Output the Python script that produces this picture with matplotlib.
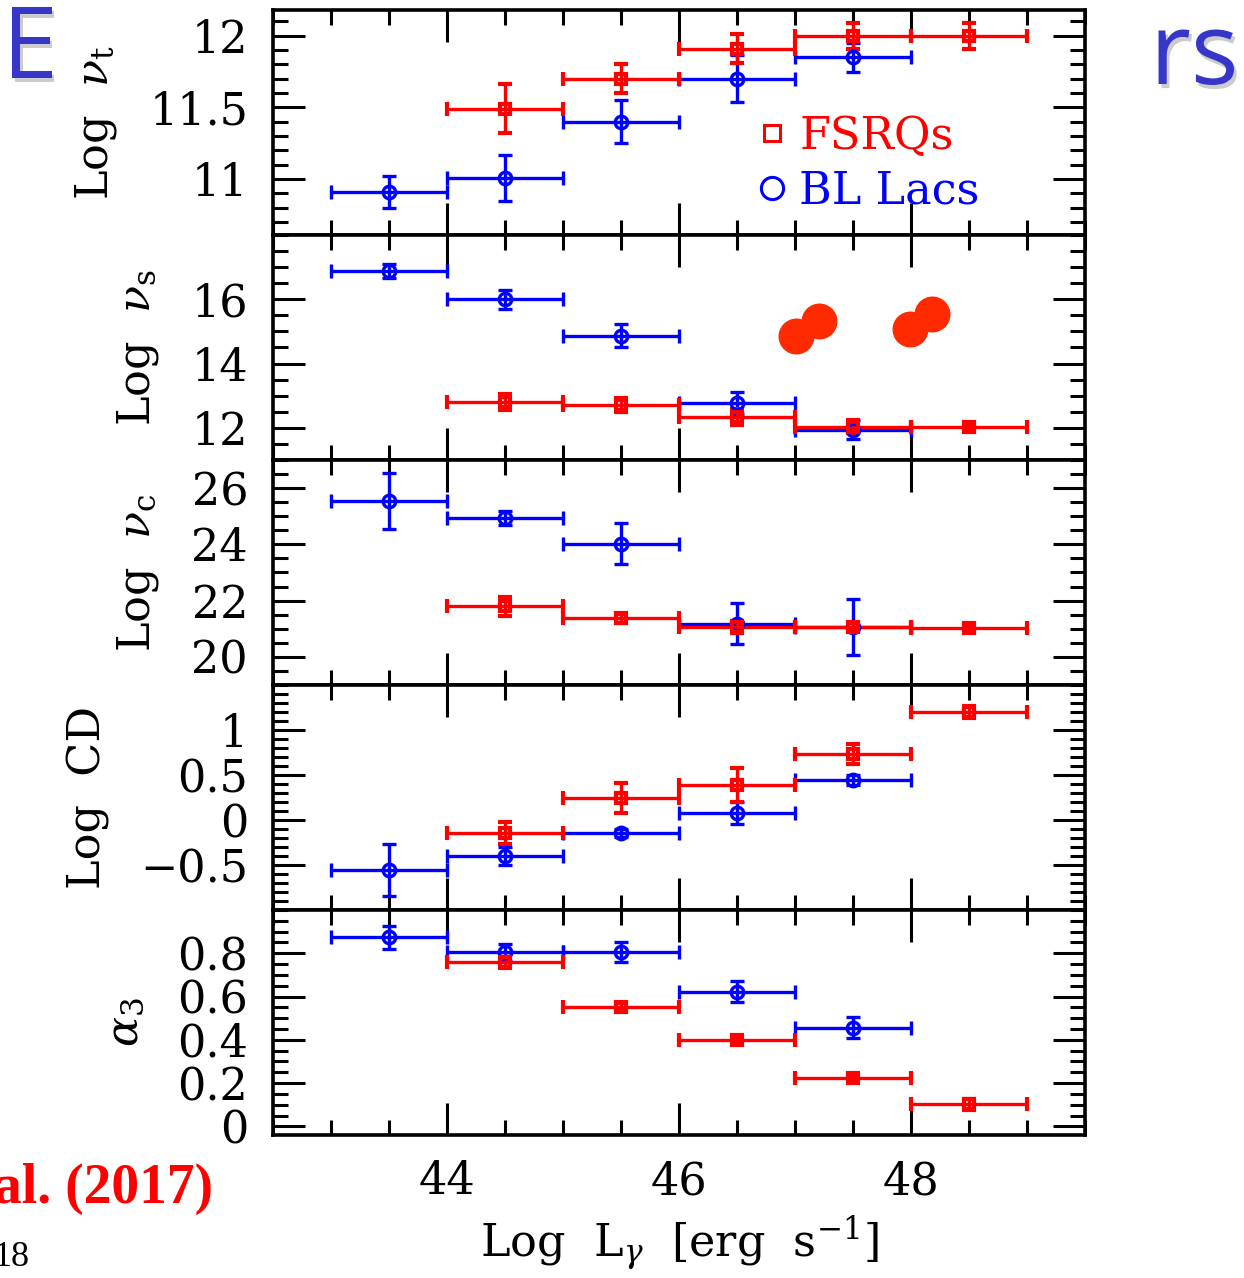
import matplotlib
matplotlib.use("Agg")
import matplotlib.pyplot as plt
import matplotlib.patheffects as pe
from matplotlib.ticker import MultipleLocator, FixedLocator, FuncFormatter
from matplotlib.lines import Line2D

plt.rcParams['font.family'] = 'DejaVu Serif'
plt.rcParams['mathtext.fontset'] = 'dejavuserif'

# bin centres in Log L_gamma (bins are 1 dex wide)
fsrq_x = [44.5, 45.5, 46.5, 47.5, 48.5]
bll_x = [43.5, 44.5, 45.5, 46.5, 47.5]
bin_half = 0.5

# Log nu_t
nut_fsrq = [11.49, 11.70, 11.91, 12.00, 12.00]
nut_fsrq_err = [0.17, 0.10, 0.10, 0.09, 0.09]
nut_bll = [10.91, 11.01, 11.40, 11.70, 11.85]
nut_bll_err = [0.11, 0.16, 0.15, 0.165, 0.10]

# Log nu_s
nus_fsrq = [12.79, 12.70, 12.34, 12.03, 12.03]
nus_fsrq_err = [0.25, 0.22, 0.26, 0.2, 0.1]
nus_bll = [16.89, 16.00, 14.87, 12.76, 11.94]
nus_bll_err = [0.22, 0.3, 0.35, 0.34, 0.3]

# Log nu_c
nuc_fsrq = [21.80, 21.37, 21.06, 21.06, 21.03]
nuc_fsrq_err = [0.33, 0.15, 0.2, 0.15, 0.1]
nuc_bll = [25.54, 24.94, 24.03, 21.18, 21.06]
nuc_bll_err = [1.0, 0.25, 0.74, 0.74, 1.0]

# Log CD
cd_fsrq = [-0.144, 0.244, 0.39, 0.733, 1.20]
cd_fsrq_err = [0.125, 0.165, 0.19, 0.11, 0.07]
cd_bll = [-0.556, -0.40, -0.144, 0.078, 0.444]
cd_bll_err = [0.29, 0.1, 0.04, 0.12, 0.06]

# alpha_3
a3_fsrq = [0.758, 0.553, 0.400, 0.223, 0.102]
a3_fsrq_err = [0.025, 0.015, 0.015, 0.015, 0.025]
a3_bll = [0.874, 0.805, 0.805, 0.623, 0.456]
a3_bll_err = [0.053, 0.04, 0.045, 0.05, 0.05]

# the red blobs pasted on the slide (sitting in the nu_s panel)
blob_x = [47.01, 47.21, 47.99, 48.18]
blob_y = [14.87, 15.33, 15.08, 15.54]

panels = [
    (r'Log  $\nu_{\rm t}$', nut_fsrq, nut_fsrq_err, nut_bll, nut_bll_err),
    (r'Log  $\nu_{\rm s}$', nus_fsrq, nus_fsrq_err, nus_bll, nus_bll_err),
    (r'Log  $\nu_{\rm c}$', nuc_fsrq, nuc_fsrq_err, nuc_bll, nuc_bll_err),
    ('Log  CD', cd_fsrq, cd_fsrq_err, cd_bll, cd_bll_err),
    (r'$\alpha_3$', a3_fsrq, a3_fsrq_err, a3_bll, a3_bll_err),
]
ylims = [(10.61, 12.18), (11, 18), (19, 27), (-1, 1.5), (-0.04, 1.0)]
ymajors = [[11, 11.5, 12], [12, 14, 16], [20, 22, 24, 26],
           [-0.5, 0, 0.5, 1], [0, 0.2, 0.4, 0.6, 0.8]]
yminor = [0.1, 0.5, 0.5, 0.1, 0.05]


def fmt(v, pos):
    return ('%g' % v).replace('-', '\u2212')


fig, axs = plt.subplots(5, 1, sharex=True, figsize=(12.44, 12.78), dpi=100)
fig.subplots_adjust(left=0.2195, right=0.8722, top=0.9922, bottom=0.1119, hspace=0)

ebkw = dict(xerr=bin_half, ls='none', elinewidth=2.4, capsize=5, capthick=2.4)

for i, ax in enumerate(axs):
    lab, fy, fe, by, be = panels[i]
    ax.errorbar(bll_x, by, yerr=be, fmt='o', color='blue', mfc='none',
                ms=9, mew=2.4, **ebkw)
    ax.errorbar(fsrq_x, fy, yerr=fe, fmt='s', color='red', mfc='none',
                ms=7, mew=3, **ebkw)
    ax.set_ylim(*ylims[i])
    ax.set_ylabel(lab, fontsize=32, labelpad=22)
    ax.yaxis.set_major_locator(FixedLocator(ymajors[i]))
    ax.yaxis.set_minor_locator(MultipleLocator(yminor[i]))
    ax.yaxis.set_major_formatter(FuncFormatter(fmt))
    ax.xaxis.set_major_locator(MultipleLocator(2))
    ax.xaxis.set_minor_locator(MultipleLocator(0.5))
    ax.tick_params(which='both', direction='in', top=True, right=True,
                   width=2.2, labelsize=32, pad=18)
    ax.tick_params(which='major', length=23)
    ax.tick_params(which='minor', length=11)
    for s in ax.spines.values():
        s.set_linewidth(2.6)

axs[-1].set_xlim(42.5, 49.5)
axs[-1].set_xlabel(r'Log  L$_\gamma$  [erg  s$^{-1}$]', fontsize=32, labelpad=8)

# legend in the top panel
handles = [Line2D([], [], ls='none', marker='s', mfc='none', mec='red', ms=12, mew=2.2),
           Line2D([], [], ls='none', marker='o', mfc='none', mec='blue', ms=16, mew=2.2)]
axs[0].legend(handles, ['FSRQs', 'BL Lacs'], loc='upper left',
              bbox_to_anchor=(0.5985, 0.535), frameon=False, fontsize=32,
              handlelength=0.6, handletextpad=0.3, labelspacing=0.26,
              borderpad=0, borderaxespad=0, labelcolor=['red', 'blue'])

# slide decorations
axs[1].scatter(blob_x, blob_y, s=670, color='#ff2a00', zorder=10, clip_on=False,
               linewidths=0)

shadow = [pe.withSimplePatchShadow(offset=(2, -3), shadow_rgbFace='gray', alpha=0.4)]
fig.text(2 / 1244, 1 - 78 / 1278, 'E', fontsize=72, family='Open Sans',
         color='#3636c8', va='baseline', ha='left', path_effects=shadow)
fig.text(1150 / 1244, 1 - 84 / 1278, 'rs', fontsize=72, family='Open Sans',
         color='#3636c8', va='baseline', ha='left', path_effects=shadow)
fig.text(213 / 1244, 1 - 1203 / 1278, 'al. (2017)', ha='right', va='baseline',
         family='Liberation Serif', weight='bold', color='red', fontsize=40)
fig.text(30 / 1244, 1 - 1266 / 1278, '18', ha='right', va='baseline',
         family='Liberation Serif', fontsize=26)

fig.savefig('out.png', dpi=100)
